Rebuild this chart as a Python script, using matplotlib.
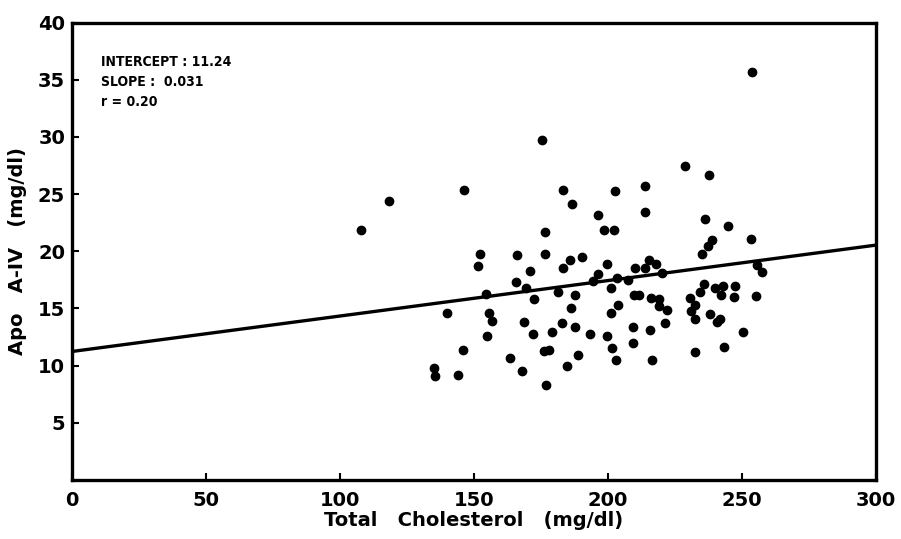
import matplotlib
matplotlib.use('Agg')
import matplotlib.pyplot as plt
import numpy as np

# total cholesterol (mg/dl) vs apo A-IV (mg/dl)
chol = [107.8, 118.3, 146.4, 152.2, 151.4, 154.5, 140.0, 155.7, 156.6, 155.0,
        146.0, 135.1, 135.6, 144.0, 175.3, 183.3, 202.5, 213.7, 228.7, 186.6,
        196.4, 214.0, 176.6, 198.6, 202.4, 165.9, 176.5, 190.2, 185.7, 183.3,
        170.9, 199.5, 215.4, 210.2, 214.0, 217.9, 220.1, 196.4, 194.6, 203.4,
        207.6, 165.8, 169.4, 201.1, 181.3, 187.7, 172.3, 209.8, 211.7, 216.2,
        218.9, 230.6, 234.3, 186.4, 203.9, 219.1, 221.9, 201.1, 232.5, 231.1,
        232.7, 168.8, 182.9, 187.9, 172.0, 179.0, 193.3, 199.6, 209.5, 215.8,
        221.5, 163.4, 176.2, 178.0, 188.7, 201.6, 209.2, 203.1, 216.4, 232.6,
        167.9, 184.7, 176.9, 237.8, 236.2, 245.0, 253.6, 238.9, 237.4, 235.3,
        255.5, 257.7, 235.8, 239.9, 243.0, 247.4, 242.4, 247.0, 255.2, 238.1,
        241.7, 240.8, 250.5, 243.3, 253.7]
apo = [21.9, 24.4, 25.4, 19.8, 18.7, 16.3, 14.6, 14.6, 13.9, 12.6,
       11.4, 9.8, 9.1, 9.2, 29.7, 25.4, 25.3, 25.7, 27.5, 24.1,
       23.2, 23.4, 21.7, 21.9, 21.9, 19.7, 19.8, 19.5, 19.2, 18.5,
       18.3, 18.9, 19.2, 18.5, 18.5, 18.9, 18.1, 18.0, 17.4, 17.7,
       17.5, 17.3, 16.8, 16.8, 16.4, 16.2, 15.8, 16.2, 16.2, 15.9,
       15.8, 15.9, 16.4, 15.0, 15.3, 15.2, 14.9, 14.6, 15.3, 14.8,
       14.1, 13.8, 13.7, 13.4, 12.8, 12.9, 12.8, 12.6, 13.4, 13.1,
       13.7, 10.7, 11.3, 11.4, 10.9, 11.5, 12.0, 10.5, 10.5, 11.2,
       9.5, 10.0, 8.3, 26.7, 22.8, 22.2, 21.1, 21.0, 20.5, 19.8,
       18.8, 18.2, 17.1, 16.8, 17.0, 17.0, 16.2, 16.0, 16.1, 14.5,
       14.1, 13.8, 12.9, 11.6, 35.7]

intercept = 11.24
slope = 0.031
r = 0.20

xticks = [0, 50, 100, 150, 200, 250, 300]
yticks = [5, 10, 15, 20, 25, 30, 35, 40]

fig = plt.figure(figsize=(9.01, 5.39), dpi=100)
ax = fig.add_axes([0.080, 0.1095, 0.892, 0.8485])

ax.scatter(chol, apo, s=36, color='black', zorder=3)
xl = np.array([0, 300])
ax.plot(xl, intercept + slope * xl, color='black', lw=2.4)

ax.set_xlim(0, 300)
ax.set_ylim(0, 40)
ax.set_xticks(xticks)
ax.set_yticks(yticks)
ax.tick_params(direction='in', length=5, width=1.5, labelsize=14)
ax.tick_params(axis='x', pad=8)
ax.tick_params(axis='y', pad=5)
for lab in ax.get_xticklabels() + ax.get_yticklabels():
    lab.set_fontweight('bold')
for sp in ax.spines.values():
    sp.set_linewidth(2.4)

ax.set_xlabel('Total   Cholesterol   (mg/dl)', fontsize=14, fontweight='bold', labelpad=1)
ax.set_ylabel('Apo   A-IV   (mg/dl)', fontsize=14, fontweight='bold', labelpad=8)

ax.text(0.036, 0.93, f'INTERCEPT : {intercept:.2f}\nSLOPE :  {slope:.3f}\nr = {r:.2f}',
        transform=ax.transAxes, fontsize=10, fontweight='bold', fontstretch='condensed',
        va='top', ha='left', linespacing=1.55)

fig.savefig('out.png', dpi=100)
